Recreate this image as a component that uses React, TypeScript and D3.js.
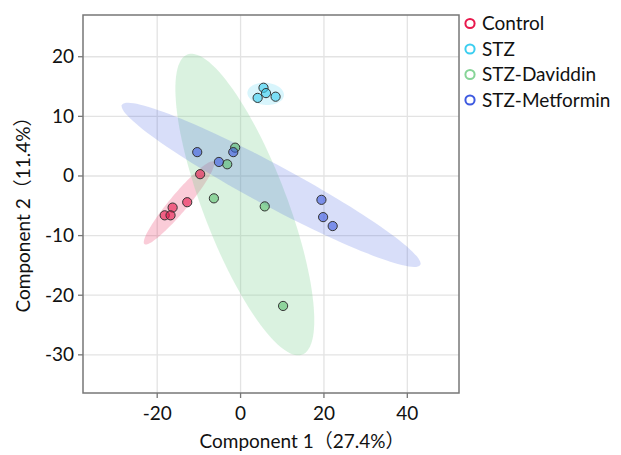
import * as d3 from 'd3'

const groups = ['Control', 'STZ', 'STZ-Daviddin', 'STZ-Metformin']
const groupColors = ['#e8184c', '#3ccef0', '#86d497', '#3e5ae0']
const pointColors = ['#e8184c', '#3ccef0', '#5cc06e', '#3e5ae0']

const controlX = [-9.7, -12.8, -16.3, -18.2, -16.8]
const controlY = [0.3, -4.4, -5.3, -6.6, -6.6]
const stzX = [5.5, 6.1, 4.1, 8.4]
const stzY = [14.8, 13.9, 13.1, 13.3]
const daviddinX = [-1.3, -3.2, -6.4, 5.8, 10.2]
const daviddinY = [4.75, 1.96, -3.75, -5.1, -21.8]
const metforminX = [-10.4, -5.2, -1.75, 19.4, 19.8, 22.1]
const metforminY = [4.0, 2.35, 4.0, -4.0, -6.9, -8.4]

const xTicks = [-20, 0, 20, 40]
const yTicks = [20, 10, 0, -10, -20, -30]

const seriesX = [controlX, stzX, daviddinX, metforminX]
const seriesY = [controlY, stzY, daviddinY, metforminY]
const ellipseOpacity = [0.22, 0.2, 0.3, 0.2]

const font = "Lato, 'Noto Sans CJK SC', sans-serif"

// 95% normal confidence ellipse from the sample covariance
function ellipsePoints(xs: number[], ys: number[]): Array<[number, number]> {
  const n = xs.length
  const mx = d3.mean(xs) ?? 0
  const my = d3.mean(ys) ?? 0
  let sxx = 0
  let syy = 0
  let sxy = 0
  for (let i = 0; i < n; i++) {
    sxx += (xs[i] - mx) ** 2
    syy += (ys[i] - my) ** 2
    sxy += (xs[i] - mx) * (ys[i] - my)
  }
  sxx /= n - 1
  syy /= n - 1
  sxy /= n - 1
  const tr = sxx + syy
  const det = sxx * syy - sxy * sxy
  const disc = Math.sqrt(Math.max(0, (tr * tr) / 4 - det))
  const l1 = tr / 2 + disc
  const l2 = Math.max(0, tr / 2 - disc)
  const angle = Math.atan2(l1 - sxx, sxy || 1e-9)
  const k = Math.sqrt(5.991)
  const a = k * Math.sqrt(l1)
  const b = k * Math.sqrt(l2)
  return d3.range(120).map((i) => {
    const t = (i / 120) * Math.PI * 2
    const ex = a * Math.cos(t)
    const ey = b * Math.sin(t)
    return [
      mx + ex * Math.cos(angle) - ey * Math.sin(angle),
      my + ex * Math.sin(angle) + ey * Math.cos(angle),
    ]
  })
}

export default function App() {
  const width = 621
  const height = 455
  const margin = { top: 15, right: 162, bottom: 62, left: 83 }
  const x = d3.scaleLinear().domain([-37.8, 52.4]).range([margin.left, width - margin.right])
  const y = d3.scaleLinear().domain([-36.4, 27.0]).range([height - margin.bottom, margin.top])
  const line = d3
    .line<[number, number]>()
    .x((d) => x(d[0]))
    .y((d) => y(d[1]))
    .curve(d3.curveLinearClosed)

  return (
    <svg width={width} height={height} style={{ position: 'absolute', left: 0, top: 0 }}>
      <rect width={width} height={height} fill="white" />
      {xTicks.map((tick) => (
        <g key={tick}>
          <line x1={x(tick)} x2={x(tick)} y1={margin.top} y2={height - margin.bottom} stroke="#e3e3e3" strokeWidth="1.3" />
          <line x1={x(tick)} x2={x(tick)} y1={height - margin.bottom} y2={height - margin.bottom + 5} stroke="#777" strokeWidth="1.3" />
          <text x={x(tick)} y={height - margin.bottom + 27} textAnchor="middle" fontSize="19" fontFamily={font} fill="#111">
            {tick}
          </text>
        </g>
      ))}
      {yTicks.map((tick) => (
        <g key={tick}>
          <line x1={margin.left} x2={width - margin.right} y1={y(tick)} y2={y(tick)} stroke="#e3e3e3" strokeWidth="1.3" />
          <line x1={margin.left - 5} x2={margin.left} y1={y(tick)} y2={y(tick)} stroke="#777" strokeWidth="1.3" />
          <text x={margin.left - 9} y={y(tick) + 6.5} textAnchor="end" fontSize="19" fontFamily={font} fill="#111">
            {tick}
          </text>
        </g>
      ))}

      {groups.map((g, i) => (
        <path
          key={g}
          d={line(ellipsePoints(seriesX[i], seriesY[i])) ?? ''}
          fill={groupColors[i]}
          fillOpacity={ellipseOpacity[i]}
          stroke="none"
        />
      ))}

      {groups.map((g, i) => (
        <g key={g}>
          {seriesX[i].map((vx, j) => (
            <circle
              key={j}
              cx={x(vx)}
              cy={y(seriesY[i][j])}
              r={4.6}
              fill={pointColors[i]}
              fillOpacity={0.6}
              stroke="#333"
              strokeWidth="1"
            />
          ))}
        </g>
      ))}

      <rect
        x={margin.left}
        y={margin.top}
        width={width - margin.left - margin.right}
        height={height - margin.top - margin.bottom}
        fill="none"
        stroke="#777"
        strokeWidth="1.5"
      />

      {groups.map((g, i) => (
        <g key={g} transform={`translate(470,${23.5 + i * 25.5})`}>
          <circle r={4.6} fill="none" stroke={groupColors[i]} strokeWidth="2" />
          <text x={12} y={6.5} fontSize="19" fontFamily={font} fill="#111">
            {g}
          </text>
        </g>
      ))}

      <text x={302} y={448} textAnchor="middle" fontSize="19" fontFamily={font} fill="#111">
        Component 1（27.4%）
      </text>
      <text
        transform={`translate(30,${(margin.top + height - margin.bottom) / 2 + 6}) rotate(-90)`}
        textAnchor="middle"
        fontSize="19"
        fontFamily={font}
        fill="#111"
      >
        Component 2（11.4%）
      </text>
    </svg>
  )
}
